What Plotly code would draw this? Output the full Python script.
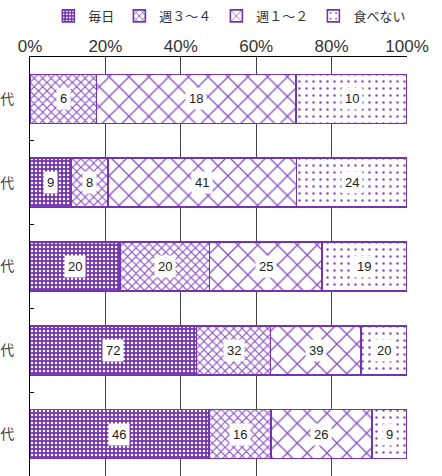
import plotly.graph_objects as go

# Rows (top to bottom), their axis labels and answer counts per frequency
rows = [0, 1, 2, 3, 4]
row_labels = ["代", "代", "代", "代", "代"]
series_names = ["毎日", "週３～４", "週１～２", "食べない"]
daily = [0, 9, 20, 72, 46]
wk34 = [6, 8, 20, 32, 16]
wk12 = [18, 41, 25, 39, 26]
never = [10, 24, 19, 20, 9]
x_ticks = [0, 20, 40, 60, 80, 100]
x_tick_labels = ["0%", "20%", "40%", "60%", "80%", "100%"]

PURPLE = "#7434b0"
series = [daily, wk34, wk12, never]
patterns = [
    dict(shape=".", bgcolor=PURPLE, fgcolor="white", size=4, solidity=0.3),
    dict(shape="x", bgcolor="white", fgcolor="#8a50c4", size=6, solidity=0.35),
    dict(shape="x", bgcolor="white", fgcolor="#8a50c4", size=14, solidity=0.18),
    dict(shape=".", bgcolor="white", fgcolor="#8a4cc4", size=7, solidity=0.1),
]

fig = go.Figure()
for name, vals, pat in zip(series_names, series, patterns):
    fig.add_trace(go.Bar(
        y=rows, x=vals, name=name, orientation="h",
        marker=dict(color="white", pattern=pat, line=dict(color=PURPLE, width=1.6)),
        hoverinfo="skip",
    ))

# Count labels centred in each segment (segments are shown as shares of the row total)
totals = [sum(col) for col in zip(*series)]
annotations = []
for r in rows:
    start = 0.0
    for vals in series:
        share = vals[r] / totals[r] * 100
        if vals[r] > 0:
            annotations.append(dict(
                x=start + share / 2, y=r, xref="x", yref="y",
                text=str(vals[r]), showarrow=False,
                font=dict(family="Liberation Sans, Arial, sans-serif", size=13, color="#222"),
                bgcolor="white", borderpad=3,
            ))
        start += share

fig.update_layout(
    template="none",
    width=442, height=476,
    margin=dict(l=30, r=35, t=57, b=0),
    barmode="stack", barnorm="percent", bargap=0.415,
    paper_bgcolor="white", plot_bgcolor="white",
    annotations=annotations,
    legend=dict(
        orientation="h", x=0.52, xanchor="center", xref="container",
        y=0.998, yanchor="top", yref="container",
        font=dict(family="Noto Sans CJK JP", size=13, color="#333"),
        itemwidth=30, traceorder="normal",
    ),
    xaxis=dict(
        side="top", range=[0, 100], tickvals=x_ticks, ticktext=x_tick_labels,
        showgrid=True, gridcolor="#444", gridwidth=1,
        showline=True, linecolor="black", linewidth=1,
        ticks="", zeroline=False, automargin=False, ticklabelstandoff=-3,
        tickfont=dict(family="Liberation Sans, Arial, sans-serif", size=17, color="#333"),
    ),
    yaxis=dict(
        range=[4.5, -0.5], tickvals=rows, ticktext=row_labels,
        showgrid=False, zeroline=False,
        showline=True, linecolor="black", linewidth=1,
        ticks="", ticklabelstandoff=12, automargin=False,
        minor=dict(tickvals=[0.5, 1.5, 2.5, 3.5], ticks="inside", ticklen=4,
                   tickcolor="black", showgrid=False),
        tickfont=dict(family="Noto Sans CJK JP", size=14, color="#444"),
    ),
)

fig.write_html("out.html")
